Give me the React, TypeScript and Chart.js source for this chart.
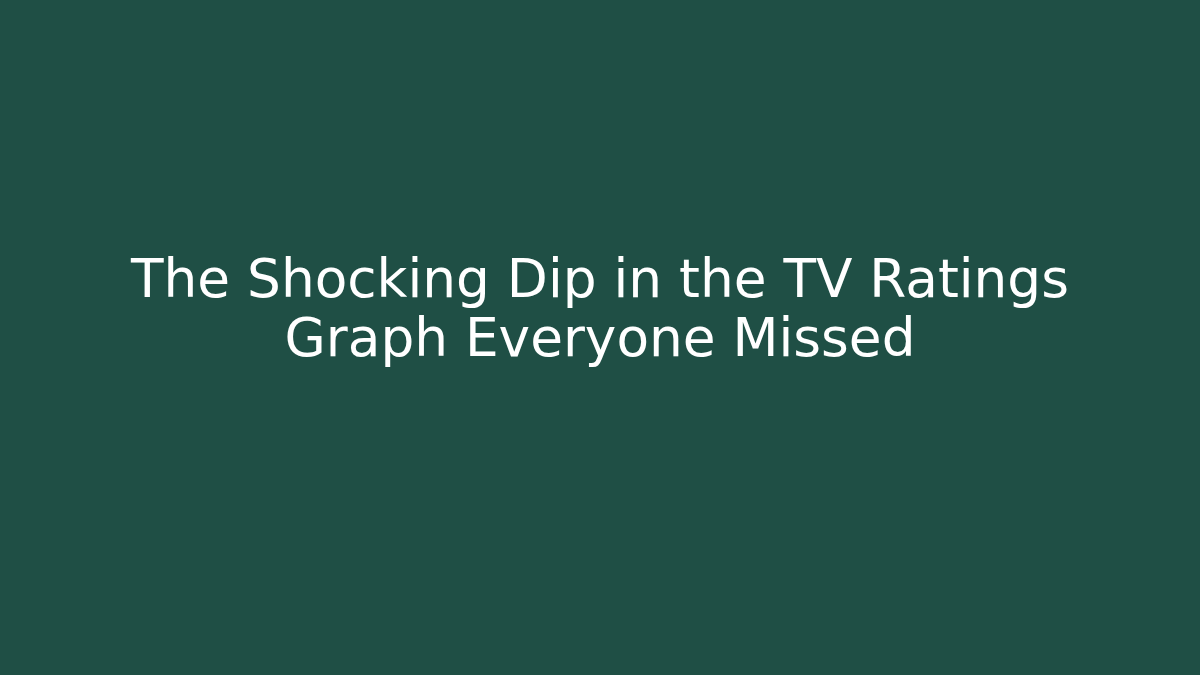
import { useEffect, useRef } from 'react';
import { Chart, ChartConfiguration, registerables } from 'chart.js';

Chart.register(...registerables);

// Title card: no marks, just the headline
const titleLines = ['The Shocking Dip in the TV Ratings', 'Graph Everyone Missed'];
const categories: string[] = [];
const values: number[] = [];

const BG = '#1f4f45';

const backgroundPlugin = {
  id: 'bgFill',
  beforeDraw(chart: Chart) {
    const { ctx, width, height } = chart;
    ctx.save();
    ctx.fillStyle = BG;
    ctx.fillRect(0, 0, width, height);
    ctx.restore();
  },
};

export default function App() {
  const canvasRef = useRef<HTMLCanvasElement>(null);
  const chartInstance = useRef<Chart | null>(null);

  useEffect(() => {
    document.body.style.margin = '0';
    if (!canvasRef.current) return;
    if (chartInstance.current) chartInstance.current.destroy();

    const config: ChartConfiguration = {
      type: 'bar',
      data: {
        labels: categories,
        datasets: [{ data: values }],
      },
      options: {
        animation: false,
        responsive: true,
        maintainAspectRatio: false,
        layout: { padding: { top: 244 } },
        scales: {
          x: { display: false },
          y: { display: false },
        },
        plugins: {
          legend: { display: false },
          tooltip: { enabled: false },
          title: {
            display: true,
            text: titleLines,
            color: '#ffffff',
            font: { family: 'DejaVu Sans', size: 53.3, weight: 'normal', lineHeight: 1.1 },
            padding: { top: 10, bottom: 10 },
          },
        },
      },
      plugins: [backgroundPlugin],
    };

    chartInstance.current = new Chart(canvasRef.current, config);
    return () => {
      chartInstance.current?.destroy();
      chartInstance.current = null;
    };
  }, []);

  return (
    <div style={{ width: 1200, height: 675, background: BG }}>
      <canvas ref={canvasRef} />
    </div>
  );
}
